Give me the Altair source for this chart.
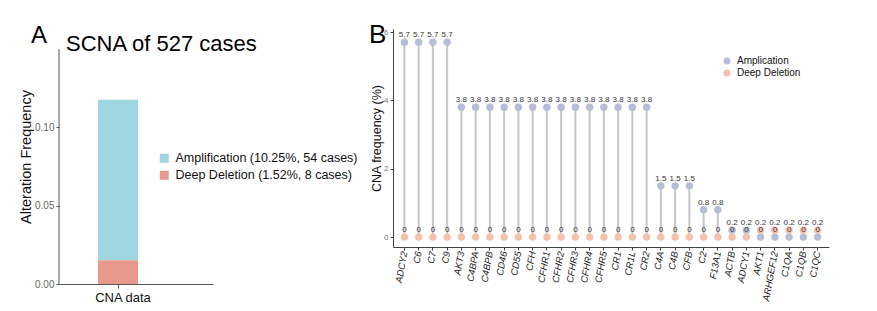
import altair as alt
import pandas as pd

FONT = "Liberation Sans"

# ---------------- Panel A data ----------------
A_CATEGORY = ["CNA data", "CNA data"]
A_TYPES = ["Amplification (10.25%, 54 cases)", "Deep Deletion (1.52%, 8 cases)"]
A_VALUES = [0.1025, 0.0152]
A_STACK = [1, 0]
A_COLORS = ["#9ed5e1", "#e9998c"]
A_TICKS = [0.0, 0.05, 0.10]
A_AXIS_TOP = [0.15]
A_DOMAIN = [0, 0.1628]
A_TITLE = ["SCNA of 527 cases"]
A_LETTER = ["A"]

# ---------------- Panel B data ----------------
GENES = ["ADCY2", "C6", "C7", "C9", "AKT3", "C4BPA", "C4BPB", "CD46", "CD55", "CFH",
         "CFHR1", "CFHR2", "CFHR3", "CFHR4", "CFHR5", "CR1", "CR1L", "CR2", "C4A", "C4B",
         "CFB", "C2", "F13A1", "ACTB", "ADCY1", "AKT1", "ARHGEF12", "C1QA", "C1QB", "C1QC"]
AMP = [5.7, 5.7, 5.7, 5.7, 3.8, 3.8, 3.8, 3.8, 3.8, 3.8,
       3.8, 3.8, 3.8, 3.8, 3.8, 3.8, 3.8, 3.8, 1.5, 1.5,
       1.5, 0.8, 0.8, 0.2, 0.2, 0, 0, 0, 0, 0]
DEL = [0, 0, 0, 0, 0, 0, 0, 0, 0, 0,
       0, 0, 0, 0, 0, 0, 0, 0, 0, 0,
       0, 0, 0, 0, 0, 0.2, 0.2, 0.2, 0.2, 0.2]
B_TYPES = ["Amplication", "Deep Deletion"]
B_COLORS = ["#b6bdd6", "#f5c0ac"]
B_TICKS = [0, 2, 4, 6]
B_DOMAIN = [-0.29, 6.09]
B_LETTER = ["B"]

# ---------------- Panel A ----------------
dfA = pd.DataFrame({"cat": A_CATEGORY, "type": A_TYPES, "value": A_VALUES, "stack": A_STACK})
WA, HA = 154, 255

bars = alt.Chart(dfA).mark_bar(size=40).encode(
    x=alt.X("cat:N", title=None,
            scale=alt.Scale(paddingInner=0, paddingOuter=1, align=0.325),
            axis=alt.Axis(labelAngle=0, labelFontSize=13, labelColor="#111", labelFont=FONT,
                          domainColor="#555", tickColor="#555", tickSize=4, labelPadding=3,
                          labelOffset=5)),
    y=alt.Y("value:Q", stack="zero", scale=alt.Scale(domain=A_DOMAIN, nice=False, zero=True),
            axis=alt.Axis(values=A_TICKS, format=".2f", title="Alteration Frequency",
                          domain=False, grid=False, labelFontSize=10, labelColor="#666",
                          labelFont=FONT, tickColor="#555", tickSize=3, labelPadding=2,
                          titleFont=FONT, titleFontSize=14.5, titleFontWeight="normal",
                          titleColor="#111", titlePadding=1)),
    color=alt.Color("type:N", scale=alt.Scale(domain=A_TYPES, range=A_COLORS),
                    legend=alt.Legend(title=None, orient="none", legendX=99, legendY=123,
                                      symbolType="square", symbolSize=81, symbolStrokeWidth=0,
                                      labelFontSize=12.5, labelFont=FONT, labelColor="#111",
                                      labelLimit=400, rowPadding=4, labelOffset=5, padding=0)),
    order=alt.Order("stack:Q"),
)

dfAxisA = pd.DataFrame({"value": [0.0], "top": A_AXIS_TOP})
axisA = alt.Chart(dfAxisA).mark_rule(color="#555", strokeWidth=1).encode(
    x=alt.value(0), y=alt.Y("value:Q"), y2="top:Q")

letterA = alt.Chart(pd.DataFrame({"t": A_LETTER})).mark_text(
    align="left", baseline="alphabetic", fontSize=24, font=FONT, color="#000").encode(
    x=alt.value(-28), y=alt.value(14), text="t:N")
titleA = alt.Chart(pd.DataFrame({"t": A_TITLE})).mark_text(
    align="left", baseline="alphabetic", fontSize=22, font=FONT, color="#000").encode(
    x=alt.value(7), y=alt.value(22), text="t:N")

panelA = alt.layer(bars, axisA, letterA, titleA).properties(width=WA, height=HA)

# ---------------- Panel B ----------------
WB, HB = 436, 218
rows = []
for g, a, d in zip(GENES, AMP, DEL):
    rows.append({"gene": g, "type": B_TYPES[0], "value": a, "label": f"{a:g}"})
    rows.append({"gene": g, "type": B_TYPES[1], "value": d, "label": f"{d:g}"})
dfB = pd.DataFrame(rows)
dfS = pd.DataFrame({"gene": GENES, "amp": AMP, "del": DEL})

xB = alt.X("gene:N", sort=GENES, title=None, scale=alt.Scale(padding=0.6),
           axis=alt.Axis(labelAngle=280, labelFontStyle="italic", labelFontSize=9.5,
                         labelFont=FONT, labelColor="#222", tickSize=3, tickColor="#444",
                         domainColor="#444", labelPadding=1))
yScaleB = alt.Scale(domain=B_DOMAIN, nice=False, zero=False)
yAxisB = alt.Axis(values=B_TICKS, format="d", title="CNA frequency (%)", grid=False,
                  labelFontSize=8, labelColor="#777", labelFont=FONT, tickSize=3,
                  tickColor="#444", domainColor="#444", labelPadding=2,
                  titleFont=FONT, titleFontSize=12.5, titleFontWeight="normal",
                  titleColor="#111", titlePadding=0)

stems = alt.Chart(dfS).mark_rule(color="#c6c6c6", strokeWidth=2).encode(
    x=xB, y=alt.Y("amp:Q", scale=yScaleB, axis=yAxisB), y2="del:Q")

colorB = alt.Color("type:N", scale=alt.Scale(domain=B_TYPES, range=B_COLORS),
                   legend=alt.Legend(title=None, orient="none", legendX=329, legendY=27,
                                     symbolType="circle", symbolSize=50, symbolOpacity=1,
                                     symbolStrokeWidth=0, labelFontSize=10, labelFont=FONT,
                                     labelColor="#111", rowPadding=2, labelOffset=5, padding=0))

ptsAmp = alt.Chart(dfB).transform_filter(alt.datum.type == B_TYPES[0]).mark_circle(
    size=55, opacity=1).encode(x=xB, y=alt.Y("value:Q", scale=yScaleB), color=colorB)
ptsDel = alt.Chart(dfB).transform_filter(alt.datum.type == B_TYPES[1]).mark_circle(
    size=55, opacity=1).encode(x=xB, y=alt.Y("value:Q", scale=yScaleB), color=colorB)
labels = alt.Chart(dfB).mark_text(dy=-7, fontSize=8, font=FONT, color="#333").encode(
    x=xB, y=alt.Y("value:Q", scale=yScaleB), text="label:N")

letterB = alt.Chart(pd.DataFrame({"t": B_LETTER})).mark_text(
    align="left", baseline="alphabetic", fontSize=26, font=FONT, color="#000").encode(
    x=alt.value(-24), y=alt.value(14), text="t:N")

panelB = alt.layer(stems, ptsAmp, ptsDel, labels, letterB).properties(width=WB, height=HB)

chart = alt.hconcat(panelA, panelB, spacing=180, bounds="flush").resolve_scale(
    color="independent").resolve_legend(color="independent").configure_view(
    stroke=None).properties(padding={"left": 10, "top": 14, "right": 5, "bottom": 5},
                            background="white")

chart.save("out.html", embed_options={"renderer": "svg", "actions": False})
